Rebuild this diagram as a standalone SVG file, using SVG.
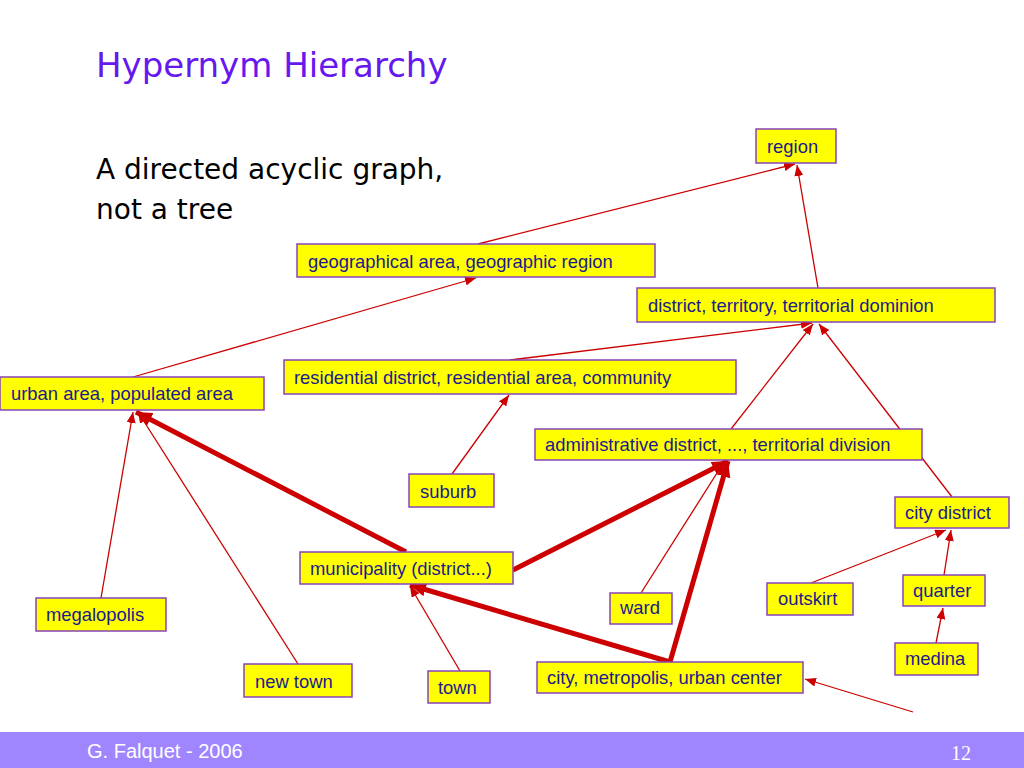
<svg xmlns="http://www.w3.org/2000/svg" width="1024" height="768" viewBox="0 0 1024 768">
<style>
.box{fill:#FFFF00;stroke:#8844BB;stroke-width:1.5}
.lbl{font-family:"Liberation Sans",Arial,sans-serif;font-size:18.4px;fill:#1C1A8E}
.thin{stroke:#CC0000;stroke-width:1.3;fill:none;marker-end:url(#a1)}
.thick{stroke:#CC0000;stroke-width:5;fill:none;marker-end:url(#a2)}
</style>
<defs>
<marker id="a1" markerUnits="userSpaceOnUse" viewBox="0 0 11 9" refX="11" refY="4.5" markerWidth="11" markerHeight="9" orient="auto"><path d="M0,0 L11,4.5 L0,9 Z" fill="#CC0000"/></marker>
<marker id="a2" markerUnits="userSpaceOnUse" viewBox="0 0 16 14" refX="16" refY="7" markerWidth="16" markerHeight="14" orient="auto"><path d="M0,0 L16,7 L0,14 Z" fill="#CC0000"/></marker>
</defs>
<rect width="1024" height="768" fill="#FFFFFF"/>
<text x="96" y="77" font-family="DejaVu Sans,Verdana,sans-serif" font-size="34" fill="#6618EE">Hypernym Hierarchy</text>
<text font-family="DejaVu Sans,Verdana,sans-serif" font-size="28" fill="#000000"><tspan x="96" y="179">A directed acyclic graph,</tspan><tspan x="96" y="219">not a tree</tspan></text>
<g id="connectors">
<line class="thin" x1="478" y1="244" x2="795" y2="164"/>
<line class="thin" x1="818" y1="288" x2="797" y2="165"/>
<line class="thin" x1="133" y1="377" x2="476" y2="278"/>
<line class="thin" x1="510" y1="360" x2="812" y2="323"/>
<line class="thin" x1="731" y1="429" x2="813" y2="324"/>
<line class="thin" x1="952" y1="497" x2="819" y2="324"/>
<line class="thin" x1="452" y1="474" x2="509" y2="395"/>
<line class="thin" x1="101" y1="598" x2="133" y2="412"/>
<line class="thin" x1="298" y1="664" x2="138" y2="412"/>
<line class="thin" x1="460" y1="671" x2="410" y2="586"/>
<line class="thin" x1="641" y1="593" x2="724" y2="462"/>
<line class="thin" x1="811" y1="583" x2="946" y2="530"/>
<line class="thin" x1="944" y1="575" x2="951" y2="530"/>
<line class="thin" x1="936" y1="643" x2="943" y2="608"/>
<line class="thin" x1="913" y1="712" x2="805" y2="679"/>
<line class="thick" x1="406" y1="552" x2="136" y2="412"/>
<line class="thick" x1="513" y1="570" x2="728" y2="461"/>
<line class="thick" x1="670" y1="662" x2="410" y2="585"/>
<line class="thick" x1="670" y1="662" x2="728" y2="461"/>
</g>
<g id="n-region"><rect class="box" x="756" y="129" width="80" height="34"/><text class="lbl" x="767" y="153">region</text></g>
<g id="n-geographical"><rect class="box" x="297" y="244" width="358" height="33"/><text class="lbl" x="308" y="268">geographical area, geographic region</text></g>
<g id="n-district"><rect class="box" x="637" y="288" width="358" height="34"/><text class="lbl" x="648" y="312">district, territory, territorial dominion</text></g>
<g id="n-residential"><rect class="box" x="284" y="360" width="452" height="34"/><text class="lbl" x="294" y="384">residential district, residential area, community</text></g>
<g id="n-urban"><rect class="box" x="0" y="377" width="264" height="33"/><text class="lbl" x="11" y="400">urban area, populated area</text></g>
<g id="n-administrative"><rect class="box" x="535" y="429" width="387" height="31"/><text class="lbl" x="545" y="451">administrative district, ..., territorial division</text></g>
<g id="n-suburb"><rect class="box" x="409" y="474" width="85" height="33"/><text class="lbl" x="420" y="498">suburb</text></g>
<g id="n-citydistrict"><rect class="box" x="895" y="497" width="114" height="31"/><text class="lbl" x="905" y="519">city district</text></g>
<g id="n-municipality"><rect class="box" x="300" y="552" width="213" height="32"/><text class="lbl" x="310" y="575">municipality (district...)</text></g>
<g id="n-megalopolis"><rect class="box" x="36" y="598" width="130" height="33"/><text class="lbl" x="46" y="621">megalopolis</text></g>
<g id="n-ward"><rect class="box" x="610" y="593" width="62" height="31"/><text class="lbl" x="620" y="614">ward</text></g>
<g id="n-outskirt"><rect class="box" x="767" y="583" width="86" height="32"/><text class="lbl" x="778" y="605">outskirt</text></g>
<g id="n-quarter"><rect class="box" x="903" y="575" width="82" height="31"/><text class="lbl" x="913" y="597">quarter</text></g>
<g id="n-medina"><rect class="box" x="895" y="643" width="83" height="32"/><text class="lbl" x="905" y="665">medina</text></g>
<g id="n-newtown"><rect class="box" x="244" y="664" width="108" height="33"/><text class="lbl" x="255" y="688">new town</text></g>
<g id="n-town"><rect class="box" x="428" y="671" width="62" height="32"/><text class="lbl" x="438" y="694">town</text></g>
<g id="n-city"><rect class="box" x="537" y="662" width="266" height="31"/><text class="lbl" x="547" y="684">city, metropolis, urban center</text></g>
<rect x="0" y="732" width="1024" height="36" fill="#9F86FF"/>
<text x="87" y="758" font-family="Liberation Sans,Arial,sans-serif" font-size="20" fill="#FFFFFF">G. Falquet - 2006</text>
<text x="951" y="760" font-family="Liberation Serif,Times New Roman,serif" font-size="20" fill="#FFFFFF">12</text>
</svg>
